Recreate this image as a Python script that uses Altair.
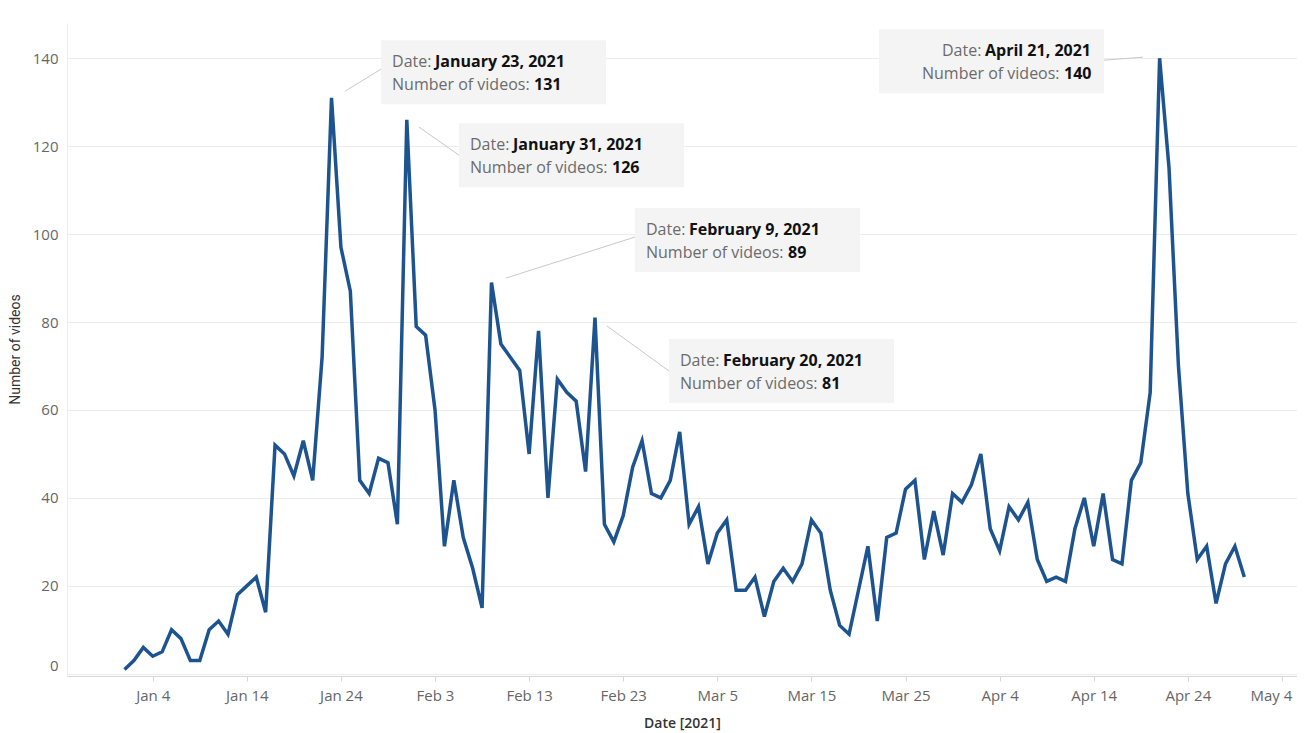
import altair as alt
import pandas as pd

# ---------------- data ----------------
jan_counts = [1, 3, 6, 4, 5, 10, 8, 3, 3, 10, 12, 9, 18, 20, 22, 14, 52, 50, 45, 53,
              44, 72, 131, 97, 87, 44, 41, 49, 48, 34, 126]
feb_counts = [79, 77, 60, 29, 44, 31, 24, 15, 89, 75, 72, 69, 50, 78, 40, 67, 64, 62,
              46, 81, 34, 30, 36, 47, 53, 41, 40, 44]
mar_counts = [55, 34, 38, 25, 32, 35, 19, 19, 22, 13, 21, 24, 21, 25, 35, 32, 19, 11,
              9, 19, 29, 12, 31, 32, 42, 44, 26, 37, 27, 41, 39]
apr_counts = [43, 50, 33, 28, 38, 35, 39, 26, 21, 22, 21, 33, 40, 29, 41, 26, 25, 44,
              48, 64, 140, 115, 70, 41, 26, 29, 16, 25, 29, 22]

counts = jan_counts + feb_counts + mar_counts + apr_counts
dates = pd.date_range("2021-01-01", periods=len(counts), freq="D")

tick_dates = ["2021-01-04", "2021-01-14", "2021-01-24", "2021-02-03", "2021-02-13",
              "2021-02-23", "2021-03-05", "2021-03-15", "2021-03-25", "2021-04-04",
              "2021-04-14", "2021-04-24", "2021-05-04"]
y_ticks = [0, 20, 40, 60, 80, 100, 120, 140]

annotated_dates = ["2021-01-23", "2021-01-31", "2021-02-09", "2021-02-20", "2021-04-21"]

# ---------------- layout (pixel offsets of annotation boxes) ----------------
box_left = [49.5, 52.2, 143.5, 74, -280.6]
box_top = [-57.6, 3.4, -74.4, 21.4, -29]
box_w, box_h = 225, 64
conn = [(13.5, -6.6, 49.5, -28.6), (12.2, 7.4, 52.2, 35.4), (14.5, -4.4, 143.5, -45.4),
        (12, 8.4, 74, 53.4), (-55.6, 2, -16.6, -1)]
label1_in = [11, 11, 11, 11, 63]
label2_in = [11, 11, 11, 11, 43]
val1_gap = 43
val2_gap = 142

FONT = "Open Sans"
LINE_COLOR = "#1d5490"
ANN_SIZE = 16

df = pd.DataFrame({"date": dates, "count": counts})


def dt(s, hours=0, minutes=0):
    t = pd.Timestamp(s)
    return alt.DateTime(year=t.year, month=t.month, date=t.day, hours=hours, minutes=minutes)


x_enc = alt.X(
    "date:T",
    scale=alt.Scale(domain=[dt("2020-12-25", 21, 22), dt("2021-05-05", 14, 24)]),
    axis=alt.Axis(
        values=[dt(s) for s in tick_dates],
        format="%b %-d",
        grid=False,
        labelFont=FONT, labelFontSize=15, labelColor="#666666",
        labelPadding=7, tickSize=5, tickColor="#d6d6d6",
        labelOffset={"condition": {"test": "month(datum.value) == 4", "value": -11}, "value": 0},
        domainColor="#d6d6d6",
        title="Date [2021]", titleFont=FONT, titleFontSize=14,
        titleFontWeight=600, titleColor="#333333",
        titleY=47, titleBaseline="middle",
    ),
)
y_enc = alt.Y(
    "count:Q",
    scale=alt.Scale(domain=[-0.5, 148], nice=False, zero=False),
    axis=alt.Axis(
        values=y_ticks,
        ticks=False,
        labelFont=FONT, labelFontSize=15, labelColor="#666666",
        labelPadding=9, labelFlush=5,
        domainColor="#ececec", gridColor="#ececec",
        title="Number of videos", titleFont="Roboto", titleFontSize=14,
        titleFontWeight="normal", titleColor="#333333",
        titleX=-52, titleY=326, titleAngle=270,
        titleAlign="center", titleBaseline="middle",
    ),
)

line = alt.Chart(df).mark_line(color=LINE_COLOR, strokeWidth=3.5).encode(x=x_enc, y=y_enc)

layers = [line]
for i, ds in enumerate(annotated_dates):
    t = pd.Timestamp(ds)
    v = counts[(t - dates[0]).days]
    adf = pd.DataFrame({
        "date": [t], "count": [v],
        "dlab": [f"{t:%B} {t.day}, {t.year}"],
        "vlab": [str(v)],
    })
    base = alt.Chart(adf)
    c1x, c1y, c2x, c2y = conn[i]
    bl, bt = box_left[i], box_top[i]
    rule = base.mark_rule(color="#c9c9c9", strokeWidth=1,
                          xOffset=c1x, yOffset=c1y, x2Offset=c2x, y2Offset=c2y).encode(
        x=x_enc, y=y_enc, x2=alt.X2("date:T"), y2=alt.Y2("count:Q"))
    rect = base.mark_rect(color="#f4f4f4", xOffset=bl, x2Offset=bl + box_w,
                          yOffset=bt, y2Offset=bt + box_h).encode(
        x=x_enc, y=y_enc, x2=alt.X2("date:T"), y2=alt.Y2("count:Q"))
    l1x = bl + label1_in[i]
    l2x = bl + label2_in[i]
    t1 = base.mark_text(align="left", baseline="middle", font=FONT, fontSize=ANN_SIZE,
                        color="#6b6b6b", dx=l1x, dy=bt + 22, text="Date:").encode(x=x_enc, y=y_enc)
    t2 = base.mark_text(align="left", baseline="middle", font=FONT, fontSize=ANN_SIZE,
                        fontWeight="bold", color="#111111", dx=l1x + val1_gap,
                        dy=bt + 22).encode(x=x_enc, y=y_enc, text="dlab:N")
    t3 = base.mark_text(align="left", baseline="middle", font=FONT, fontSize=ANN_SIZE,
                        color="#6b6b6b", dx=l2x, dy=bt + 45,
                        text="Number of videos:").encode(x=x_enc, y=y_enc)
    t4 = base.mark_text(align="left", baseline="middle", font=FONT, fontSize=ANN_SIZE,
                        fontWeight="bold", color="#111111", dx=l2x + val2_gap,
                        dy=bt + 45).encode(x=x_enc, y=y_enc, text="vlab:N")
    layers += [rule, rect, t1, t2, t3, t4]

chart = alt.layer(*layers).properties(
    width=1230, height=653,
    padding={"left": 59, "top": 15, "right": 0, "bottom": 55},
    autosize=alt.AutoSizeParams(type="none"),
    background="white",
).configure_view(stroke="transparent")

chart.save("out.html", embed_options={"renderer": "svg", "actions": False})
